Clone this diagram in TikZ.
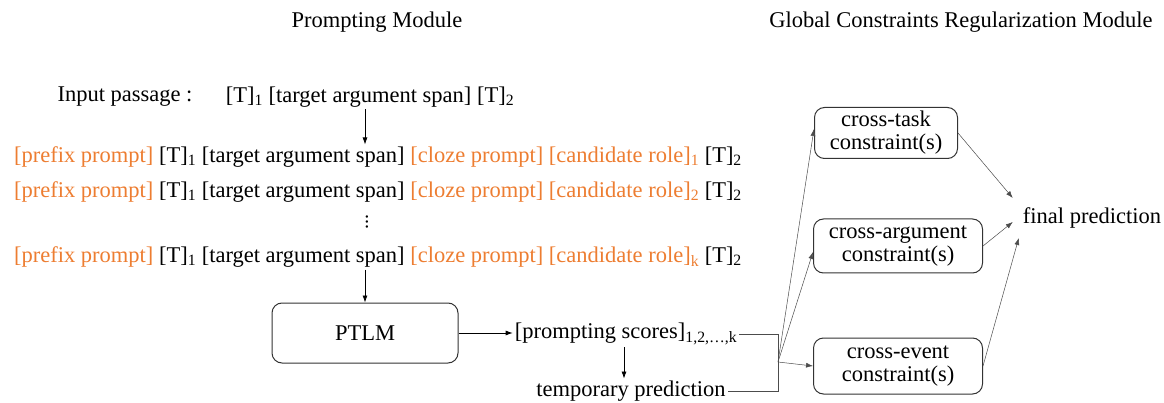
\documentclass[tikz,border=0pt]{standalone}
\usepackage{xcolor, fontspec}
\usepackage{tikz}
\usetikzlibrary{arrows.meta}
\setmainfont{Liberation Serif}
\definecolor{promptorange}{RGB}{237,125,49}
\newcommand{\po}[1]{\textcolor{promptorange}{#1}}

\begin{document}
\begin{tikzpicture}
[
x=1pt, y=-1pt,
font=\fontsize{22.5}{23}\selectfont,
every node/.style={inner sep=2pt},
box/.style={draw=black!80, line width=1pt, rounded corners=10pt, align=center},
arr/.style={-{Latex[length=7pt,width=5pt]}, line width=0.7pt},
thin arr/.style={-{Latex[length=7pt,width=5pt]}, line width=0.5pt, draw=black!70},
bracket/.style={line width=0.6pt, draw=black!70}]
\useasboundingbox (0,0) rectangle (1164,403);
\node (title1) at (377,22) {Prompting Module};
\node (title2) at (961,22) {Global Constraints Regularization Module};

\node (inlab) at (125,97) {Input passage :};
\node (inpass) at (370,97) {[T]\textsubscript{1} [target argument span] [T]\textsubscript{2}};
\node (row1) at (378,157) {\po{[prefix prompt]} [T]\textsubscript{1} [target argument span] \po{[cloze prompt] [candidate role]\textsubscript{1}} [T]\textsubscript{2}};
\node (row2) at (378,192) {\po{[prefix prompt]} [T]\textsubscript{1} [target argument span] \po{[cloze prompt] [candidate role]\textsubscript{2}} [T]\textsubscript{2}};
\node (rowdots) at (367,222) {\rotatebox{90}{\fontsize{20}{20}\selectfont ...}};
\node (rowk) at (378,257) {\po{[prefix prompt]} [T]\textsubscript{1} [target argument span] \po{[cloze prompt] [candidate role]\textsubscript{k}} [T]\textsubscript{2}};

\node[box, minimum width=186pt, minimum height=60pt] (ptlm) at (365,333) {PTLM};
\node (scores) at (626,334) {[prompting scores]\textsubscript{1,2,\dots,k}};
\node (temp) at (631,391) {temporary prediction};

\node[box, minimum width=143pt, minimum height=51pt] (task) at (886,133) {cross-task\\constraint(s)};
\node[box, minimum width=169pt, minimum height=54pt] (arg) at (898,246) {cross-argument\\constraint(s)};
\node[box, minimum width=169pt, minimum height=56pt] (event) at (898,366) {cross-event\\constraint(s)};
\node (final) at (1092,218) {final prediction};

\coordinate (brk) at (778,362);

\draw[arr] (inpass.south -| ptlm.north) -- (row1.north -| ptlm.north);
\draw[arr] (rowk.south -| ptlm.north) -- (ptlm.north);
\draw[arr] (ptlm.east) -- (ptlm.east -| scores.west);
\draw[arr] ([xshift=-2pt]scores.south) -- ([xshift=-2pt]scores.south |- temp.north);
\draw[bracket] (scores.east) -- (scores.east -| brk) -- (temp.east -| brk) -- (temp.east);
\draw[thin arr] (brk) -- ([yshift=4pt]task.west);
\draw[thin arr] (brk) -- ([yshift=-6pt]arg.west);
\draw[thin arr] (brk) -- (event.west);
\draw[thin arr] (task.east) -- ([xshift=-8pt,yshift=20pt]final.west);
\draw[thin arr] (arg.east) -- ([xshift=-8pt,yshift=-4pt]final.west);
\draw[thin arr] (event.east) -- ([xshift=-2pt,yshift=-20pt]final.west);
\end{tikzpicture}
\end{document}
